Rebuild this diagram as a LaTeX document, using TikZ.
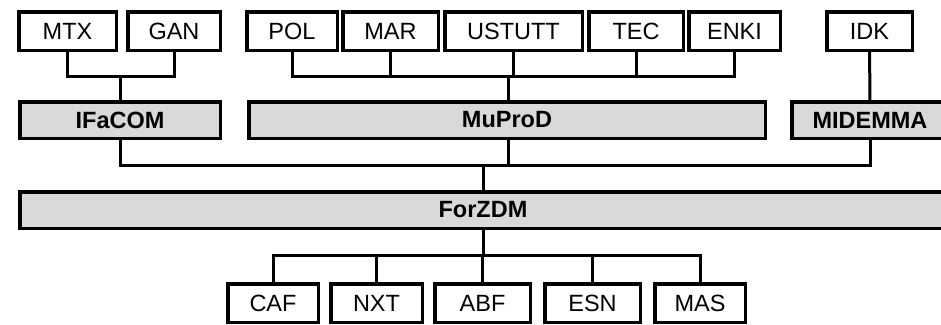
\documentclass[tikz,border=0pt]{standalone}
\usepackage{fontspec}
\setmainfont{Liberation Sans}
\definecolor{boxgray}{RGB}{217,217,217}

\begin{document}
\begin{tikzpicture}[x=1pt, y=-1pt,
    partner/.style={draw, rectangle, line width=3.5pt, fill=white, inner sep=0pt, minimum height=38.5pt, font=\fontsize{23.5}{26}\selectfont},
    project/.style={draw, rectangle, line width=3.5pt, fill=boxgray, inner sep=0pt, minimum height=36.5pt, font=\fontsize{23.5}{26}\selectfont\bfseries},
    link/.style={line width=3pt}]
    \useasboundingbox (0,0) rectangle (941,324);

    % partners on top
    \node[partner, minimum width=97.5pt] (mtx) at (67.5,31) {MTX};
    \node[partner, minimum width=92.5pt] (gan) at (174,31) {GAN};
    \node[partner, minimum width=90.5pt] (pol) at (292,31) {POL};
    \node[partner, minimum width=95.5pt] (mar) at (390.5,31) {MAR};
    \node[partner, minimum width=137.5pt] (ustutt) at (513.5,31) {USTUTT};
    \node[partner, minimum width=94.5pt] (tec) at (636,31) {TEC};
    \node[partner, minimum width=91.5pt] (enki) at (734.5,31) {ENKI};
    \node[partner, minimum width=85.5pt] (idk) at (869.5,31) {IDK};

    % projects
    \node[project, minimum width=200.5pt] (ifacom) at (120,120) {IFaCOM};
    \node[project, minimum width=516.5pt] (muprod) at (507,120) {MuProD};
    \node[project, minimum width=156.5pt] (midemma) at (870,120) {MIDEMMA};
    \node[project, minimum width=926.5pt] (forzdm) at (483,210) {ForZDM};

    % partners below
    \node[partner, minimum width=90.5pt] (caf) at (273,303) {CAF};
    \node[partner, minimum width=91.5pt] (nxt) at (376.5,303) {NXT};
    \node[partner, minimum width=95.5pt] (abf) at (482.5,303) {ABF};
    \node[partner, minimum width=95.5pt] (esn) at (592.5,303) {ESN};
    \node[partner, minimum width=90.5pt] (mas) at (700,303) {MAS};

    % bus junctions
    \coordinate (busA) at (120,76);
    \coordinate (busB) at (508,76);
    \coordinate (busC) at (483,165);
    \coordinate (busD) at (483,255);

    \draw[link] (mtx.south) |- (busA) -| (gan.south);
    \draw[link] (busA) -- (ifacom.north);

    \draw[link] (pol.south) |- (enki.south |- busB) -- (enki.south);
    \foreach \p in {mar, ustutt, tec}
        \draw[link] (\p.south) -- (\p.south |- busB);
    \draw[link] (busB) -- (muprod.north -| busB);

    \draw[link] (idk) -- (midemma);

    \draw[link] (ifacom.south) |- (midemma.south |- busC) -- (midemma.south);
    \draw[link] (muprod.south -| busB) -- (busB |- busC);
    \draw[link] (busC) -- (forzdm.north -| busC);

    \draw[link] (forzdm.south -| busD) -- (busD);
    \draw[link] (caf.north) |- (mas.north |- busD) -- (mas.north);
    \foreach \p in {nxt, abf, esn}
        \draw[link] (\p.north) -- (\p.north |- busD);
\end{tikzpicture}
\end{document}
